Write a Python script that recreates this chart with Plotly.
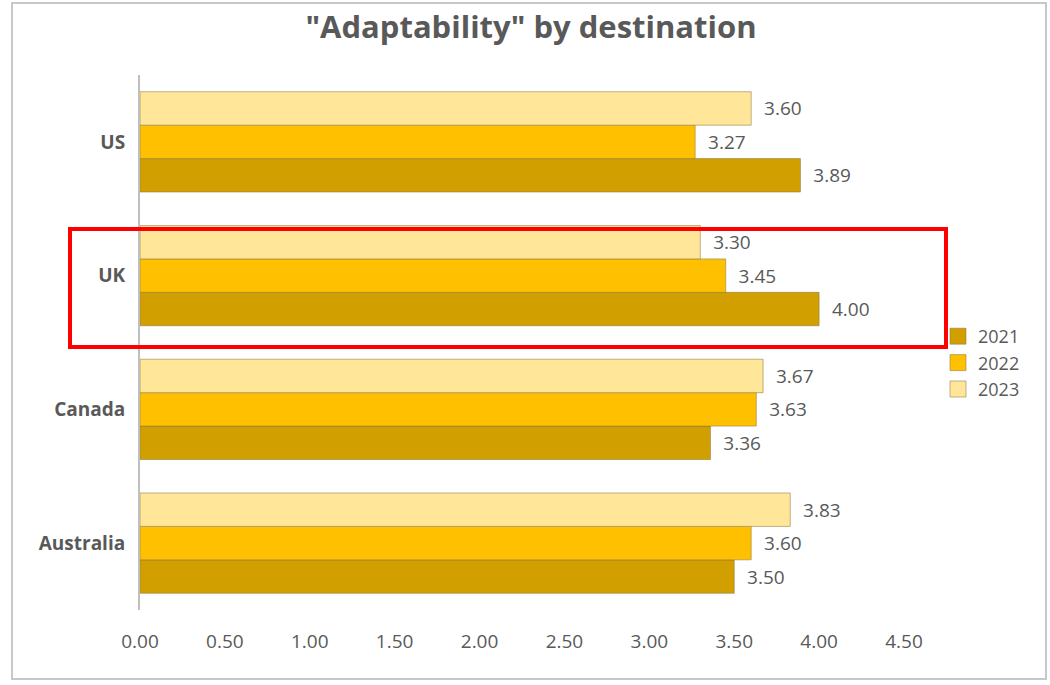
import plotly.graph_objects as go

categories = ["Australia", "Canada", "UK", "US"]
years = ["2021", "2022", "2023"]
values_2021 = [3.50, 3.36, 4.00, 3.89]
values_2022 = [3.60, 3.63, 3.45, 3.27]
values_2023 = [3.83, 3.67, 3.30, 3.60]
colors = ["#D19F00", "#FFC000", "#FFE699"]
x_ticks = [0, 0.5, 1, 1.5, 2, 2.5, 3, 3.5, 4, 4.5]

W, H = 1050, 685
L, R, T, B = 140, 146, 75, 75
PW, PH = W - L - R, H - T - B
FONT = "Open Sans"
GRAY = "#595959"
EDGE = "rgba(140,120,70,0.55)"

fig = go.Figure()
for year, vals, col in zip(years, [values_2021, values_2022, values_2023], colors):
    fig.add_trace(go.Bar(
        y=categories, x=vals, name=year, orientation="h", showlegend=False,
        marker=dict(color=col, line=dict(color=EDGE, width=1)),
        text=vals, texttemplate="  %{x:.2f}", textposition="outside",
        textfont=dict(family=FONT, size=19, color=GRAY),
        cliponaxis=False,
    ))
# legend entries with larger square swatches
for year, col in zip(years, colors):
    fig.add_trace(go.Scatter(
        x=[None], y=[None], mode="markers", name=year,
        marker=dict(symbol="square", size=17, color=col, line=dict(color=EDGE, width=1)),
    ))

fig.update_layout(
    width=W, height=H,
    margin=dict(l=L, r=R, t=T, b=B),
    paper_bgcolor="white", plot_bgcolor="white",
    barmode="group", bargap=0.25, bargroupgap=0,
    title=dict(text='<b>"Adaptability" by destination</b>', x=531 / W, xanchor="center",
               y=1 - 27 / H, yanchor="middle",
               font=dict(family=FONT, size=31, color=GRAY)),
    legend=dict(x=(938 - L) / PW, xanchor="left", y=(H - B - 318) / PH, yanchor="top",
                font=dict(family=FONT, size=18, color=GRAY),
                itemwidth=30, tracegroupgap=0, bgcolor="rgba(0,0,0,0)"),
    showlegend=True,
)
fig.update_xaxes(range=[0, 4.5], tickvals=x_ticks, tickformat=".2f",
                 showgrid=False, zeroline=False, showline=False,
                 ticks="outside", ticklen=14, tickcolor="rgba(0,0,0,0)",
                 tickfont=dict(family=FONT, size=19, color=GRAY), fixedrange=True)
fig.update_yaxes(categoryorder="array", categoryarray=categories,
                 range=[-0.5, 3.5], showgrid=False, zeroline=False,
                 showline=True, linecolor="#BFBFBF", linewidth=2,
                 ticks="outside", ticklen=9, tickcolor="rgba(0,0,0,0)",
                 tickfont=dict(family=FONT, size=19, color=GRAY, weight="bold"))

# outer chart border
fig.add_shape(type="rect", xref="paper", yref="paper",
              x0=(12 - L) / PW, x1=(1046 - L) / PW,
              y0=(H - B - 679) / PH, y1=(H - B - 3) / PH,
              line=dict(color="#C8C8C8", width=2), layer="below")
# red highlight box around UK
fig.add_shape(type="rect", xref="paper", yref="paper",
              x0=(70 - L) / PW, x1=(946 - L) / PW,
              y0=(H - B - 347) / PH, y1=(H - B - 229) / PH,
              line=dict(color="#FF0000", width=4))

fig.write_html("out.html")
